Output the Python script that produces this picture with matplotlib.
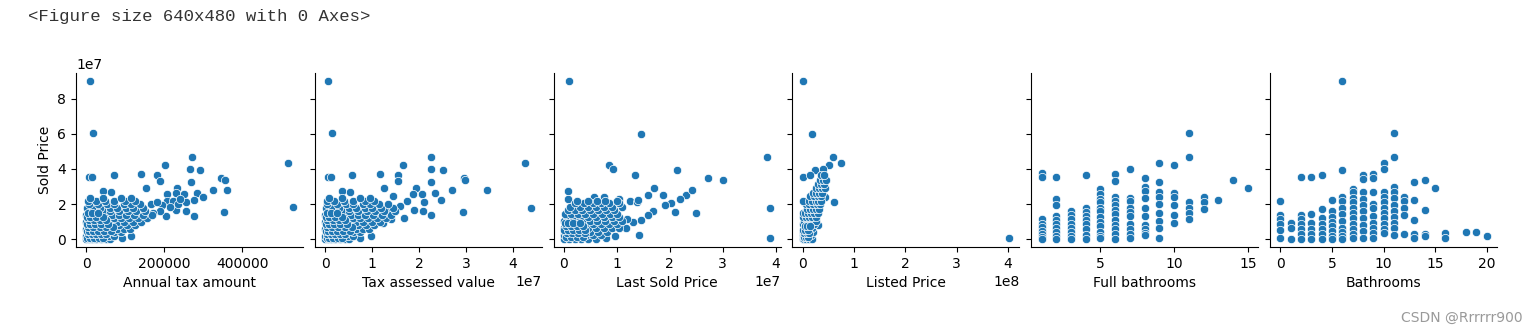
"""
Sold Price vs six housing features, one scatter panel per feature
(pairplot-style row, shared y axis), as shown in a notebook output cell.
"""

import matplotlib.pyplot as plt

OUT_PATH = "out.png"
PRICE_UNIT = 1e7  # sold prices below are written in units of 1e7 $

# ---- Annual tax amount ($) --------------------------------------------------
tax_outliers = [
    (10000, 9.0), (17000, 6.02), (8000, 3.52), (15000, 3.52), (72000, 3.68),
    (141000, 3.71), (182000, 3.68), (190000, 3.31), (201000, 4.25), (270000, 4.69),
    (267000, 4.0), (292000, 3.94), (269000, 3.26), (344000, 3.5), (356000, 3.37),
    (360000, 2.8), (326000, 2.8), (354000, 1.54), (517000, 4.34), (529000, 1.83),
    (44000, 2.74), (62000, 2.7), (154000, 2.91), (232000, 2.91), (251000, 2.59),
    (231000, 2.61), (256000, 2.15), (285000, 2.61), (277000, 2.25), (299000, 2.4),
    (275000, 1.35), (256000, 1.6), (231000, 1.68), (206000, 2.57), (206000, 2.19),
    (205000, 1.33), (115000, 0.17), (91000, 0.1), (11000, 2.22), (222000, 2.2),
    (235000, 2.0), (215000, 1.85), (195000, 1.95), (240000, 2.3), (190000, 1.6),
    (170000, 1.5), (165000, 2.0), (180000, 2.15),
]
tax_cluster = [
    (0.05, [0, 7000, 15000, 25000, 37000, 50000, 60000]),
    (0.2, [0, 9000, 18000, 30000, 42000, 58000, 72000]),
    (0.4, [2000, 12000, 24000, 36000, 54000, 72000, 90000]),
    (0.6, [0, 12000, 25000, 42000, 60000, 78000, 96000, 112000]),
    (0.8, [3000, 15000, 30000, 48000, 66000, 85000, 105000, 125000]),
    (1.0, [0, 12000, 27000, 43000, 60000, 78000, 97000, 120000, 140000]),
    (1.2, [4000, 18000, 36000, 54000, 72000, 90000, 110000, 132000, 156000]),
    (1.4, [0, 15000, 30000, 48000, 66000, 85000, 102000, 122000, 145000, 168000]),
    (1.6, [6000, 24000, 42000, 60000, 84000, 108000, 128000, 150000]),
    (1.8, [2000, 18000, 36000, 60000, 78000, 102000, 120000, 145000]),
    (2.0, [6000, 30000, 54000, 72000, 96000, 115000, 138000]),
    (2.2, [4000, 24000, 48000, 72000, 100000, 126000]),
    (2.35, [10000, 42000, 90000, 115000]),
    # crowded core near the origin
    (0.1, [3000, 10000, 20000, 32000, 44000]),
    (0.3, [4000, 14000, 26000, 38000, 50000]),
    (0.5, [1000, 8000, 18000, 30000, 45000, 62000]),
    (0.7, [5000, 16000, 34000, 50000, 68000]),
    (0.9, [2000, 9000, 21000, 38000, 55000]),
    (1.1, [6000, 20000, 35000, 50000]),
    (1.3, [2000, 10000, 26000, 42000]),
    (1.5, [4000, 14000, 30000]),
]

# ---- Tax assessed value (1e7 $) --------------------------------------------
assessed_outliers = [
    (0.07, 8.99), (0.14, 6.02), (0.06, 3.56), (0.13, 3.56), (0.58, 3.68),
    (1.16, 3.71), (1.56, 3.68), (1.56, 3.33), (1.65, 4.25), (2.25, 4.7),
    (2.25, 4.0), (2.52, 3.94), (2.25, 3.26), (2.96, 3.5), (2.99, 3.37),
    (2.7, 2.8), (3.46, 2.8), (2.93, 1.54), (4.26, 4.36), (4.4, 1.81),
    (0.37, 2.76), (0.52, 2.7), (1.26, 2.91), (1.93, 2.91), (1.88, 2.57),
    (2.07, 2.57), (2.34, 2.61), (2.48, 2.23), (2.1, 2.15), (2.08, 1.62),
    (2.25, 1.37), (1.9, 1.68), (1.69, 1.2), (1.4, 1.14), (1.23, 0.91),
    (0.98, 0.17), (0.74, 0.1), (1.75, 2.2), (1.6, 1.9), (1.45, 2.45), (1.3, 1.7),
]
assessed_cluster = [
    (0.05, [0.0, 0.06, 0.13, 0.21, 0.31, 0.42, 0.5]),
    (0.2, [0.0, 0.08, 0.16, 0.26, 0.36, 0.49, 0.6]),
    (0.4, [0.02, 0.1, 0.2, 0.31, 0.45, 0.6, 0.75]),
    (0.6, [0.0, 0.1, 0.21, 0.35, 0.5, 0.65, 0.8, 0.93]),
    (0.8, [0.03, 0.13, 0.25, 0.4, 0.55, 0.71, 0.88, 1.04]),
    (1.0, [0.0, 0.1, 0.23, 0.36, 0.5, 0.65, 0.81, 1.0, 1.16]),
    (1.2, [0.04, 0.15, 0.3, 0.45, 0.6, 0.75, 0.92, 1.1, 1.3]),
    (1.4, [0.0, 0.12, 0.25, 0.4, 0.55, 0.71, 0.85, 1.02, 1.21, 1.4]),
    (1.6, [0.05, 0.2, 0.35, 0.5, 0.7, 0.9, 1.07, 1.25, 1.5]),
    (1.8, [0.02, 0.15, 0.3, 0.5, 0.65, 0.85, 1.0, 1.2, 1.45]),
    (2.0, [0.05, 0.25, 0.45, 0.6, 0.8, 0.96, 1.15, 1.35]),
    (2.2, [0.03, 0.2, 0.4, 0.6, 0.85, 1.05]),
    (2.35, [0.08, 0.35, 0.75, 0.95]),
    # crowded core near the origin
    (0.1, [0.03, 0.09, 0.17, 0.27, 0.37]),
    (0.3, [0.04, 0.12, 0.22, 0.32, 0.42]),
    (0.5, [0.01, 0.07, 0.15, 0.25, 0.38, 0.52]),
    (0.7, [0.05, 0.14, 0.28, 0.42, 0.57]),
    (0.9, [0.02, 0.08, 0.18, 0.32, 0.46]),
    (1.1, [0.05, 0.17, 0.29, 0.42]),
    (1.3, [0.02, 0.09, 0.22, 0.35]),
    (1.5, [0.04, 0.12, 0.25]),
]

# ---- Last Sold Price (1e7 $) -----------------------------------------------
last_sold_outliers = [
    (0.095, 8.97), (1.46, 6.0), (0.86, 4.23), (0.92, 3.98), (1.35, 3.64),
    (2.14, 3.92), (2.72, 3.47), (3.0, 3.35), (3.83, 4.67), (3.9, 1.81),
    (3.9, 0.08), (0.08, 2.74), (0.08, 2.29), (1.71, 2.9), (1.59, 2.55),
    (1.87, 2.55), (2.3, 2.55), (2.42, 2.8), (2.19, 2.27), (2.03, 2.08),
    (1.91, 1.98), (2.09, 1.58), (2.5, 1.5), (1.69, 1.64), (1.58, 1.37),
    (1.46, 1.12), (1.31, 0.99), (1.41, 0.27), (1.17, 0.65), (1.2, 1.18),
    (1.25, 2.2), (1.38, 2.1), (1.4, 2.22), (1.04, 2.3), (0.57, 2.4),
    (0.76, 2.4), (0.96, 0.21), (0.79, 0.08),
]
last_sold_cluster = [
    (0.05, [0.0, 0.1, 0.2, 0.32, 0.45, 0.6]),
    (0.25, [0.0, 0.08, 0.18, 0.3, 0.42, 0.55, 0.7]),
    (0.45, [0.02, 0.12, 0.22, 0.35, 0.5, 0.65, 0.82]),
    (0.65, [0.0, 0.1, 0.2, 0.3, 0.45, 0.6, 0.75, 0.9, 1.05]),
    (0.85, [0.04, 0.15, 0.28, 0.4, 0.55, 0.7, 0.85, 1.0]),
    (1.05, [0.0, 0.1, 0.22, 0.36, 0.5, 0.62, 0.78, 0.95, 1.1]),
    (1.25, [0.05, 0.18, 0.3, 0.45, 0.6, 0.75, 0.9, 1.05]),
    (1.45, [0.02, 0.14, 0.26, 0.4, 0.55, 0.72, 0.88, 1.0]),
    (1.65, [0.08, 0.2, 0.35, 0.5, 0.65, 0.8, 0.95]),
    (1.85, [0.12, 0.3, 0.45, 0.6, 0.75, 0.9, 1.1]),
    (2.05, [0.2, 0.38, 0.55, 0.7, 0.85, 1.05]),
    (2.2, [0.25, 0.45, 0.62, 0.78, 1.0]),
    # crowded core near the origin
    (0.15, [0.03, 0.13, 0.24, 0.36]),
    (0.35, [0.05, 0.15, 0.26, 0.4]),
    (0.55, [0.0, 0.07, 0.17, 0.28, 0.4]),
    (0.75, [0.04, 0.14, 0.25, 0.36]),
    (0.95, [0.02, 0.08, 0.18, 0.3]),
]

# ---- Listed Price (1e7 $) --------------------------------------------------
listed_outliers = [
    (0.05, 9.0), (1.9, 6.0), (5.9, 4.69), (7.4, 4.34), (5.1, 4.21),
    (3.9, 4.02), (2.3, 3.92), (0.0, 3.54), (1.4, 3.64), (6.1, 2.1),
    (4.35, 2.4), (3.05, 0.8), (40.2, 0.07),
]
listed_cluster = [
    (0.05, [0.0, 0.3, 0.7, 1.2, 1.8]),
    (0.25, [0.1, 0.5, 1.0, 1.6]),
    (0.45, [0.0, 0.4, 0.9, 1.5, 2.0]),
    (0.65, [0.2, 0.7, 1.2, 1.8]),
    (0.85, [0.0, 0.5, 1.0, 1.6, 2.2]),
    (1.05, [0.3, 0.8, 1.4, 2.0, 2.6]),
    (1.25, [0.0, 0.6, 1.2, 1.8, 2.5]),
    (1.5, [0.0, 0.4, 1.0, 1.6, 2.2, 2.9]),
    (1.75, [0.8, 1.4, 2.0, 2.6, 3.2]),
    (2.0, [0.7, 1.3, 2.0, 2.7, 3.3]),
    (2.2, [0.0, 1.2, 1.8, 2.5, 3.0, 3.6]),
    (2.45, [1.5, 2.2, 2.9, 3.5]),
    (2.65, [2.0, 2.6, 3.2, 3.8]),
    (2.9, [2.5, 3.1, 3.7, 4.3]),
    (3.15, [3.0, 3.6, 4.2]),
    (3.4, [3.3, 3.9, 4.5]),
    (3.65, [3.6, 4.2]),
    # crowded core near the origin
    (0.15, [0.2, 0.6, 1.0]),
    (0.35, [0.3, 0.8, 1.2]),
    (0.55, [0.1, 0.5, 1.0]),
    (0.75, [0.4, 0.9, 1.4]),
]

# ---- Full bathrooms / Bathrooms: sold prices per integer count -------------
full_bath_cols = {
    1: [3.75, 3.52, 1.14, 0.9, 0.7, 0.5, 0.3, 0.12, 0.02],
    2: [3.56, 2.29, 1.96, 1.33, 1.1, 0.9, 0.67, 0.44, 0.19, 0.02],
    3: [1.62, 1.39, 1.14, 0.86, 0.67, 0.44, 0.19, 0.02],
    4: [3.66, 1.81, 1.58, 1.33, 1.09, 0.86, 0.57, 0.25, 0.02],
    5: [2.86, 2.57, 2.29, 2.1, 1.81, 1.62, 1.3, 1.0, 0.76, 0.44, 0.19, 0.1],
    6: [3.71, 3.33, 2.42, 2.19, 1.96, 1.68, 1.43, 1.09, 0.82, 0.57, 0.29, 0.04],
    7: [4.0, 2.38, 2.19, 1.81, 1.58, 1.33, 0.86, 0.57, 0.29, 0.06],
    8: [3.49, 2.95, 2.76, 2.38, 1.81, 1.33, 0.82, 0.57, 0.38, 0.25],
    9: [4.36, 3.26, 2.67, 2.42, 2.0, 1.5, 1.07, 0.67, 0.1],
    10: [4.23, 2.61, 2.4, 1.96, 1.39, 0.91],
    11: [6.02, 4.7, 2.1, 1.81, 1.5, 1.14],
    12: [2.4, 2.11, 1.7],
    13: [2.23],
    14: [3.39],
    15: [2.91],
}
bath_cols = {
    0: [2.19, 1.39, 1.14, 0.86, 0.51, 0.1],
    1: [0.95, 0.67, 0.04],
    2: [3.56, 1.39, 1.14, 0.86, 0.57, 0.29, 0.04],
    3: [3.56, 1.43, 0.95, 0.57, 0.29, 0.04],
    4: [3.66, 1.71, 1.24, 0.86, 0.57, 0.29, 0.04],
    5: [2.23, 1.62, 1.28, 1.01, 0.76, 0.48, 0.19, 0.04],
    6: [8.99, 3.92, 2.42, 2.19, 1.81, 1.43, 1.05, 0.67, 0.44, 0.19, 0.04],
    7: [2.86, 2.67, 2.38, 2.1, 1.81, 1.5, 1.24, 0.86, 0.57, 0.29, 0.1],
    8: [3.66, 3.41, 2.69, 2.27, 1.96, 1.62, 1.24, 0.82, 0.48, 0.1],
    9: [3.71, 3.47, 2.67, 2.0, 1.81, 1.33, 0.95, 0.67, 0.38, 0.1],
    10: [4.36, 4.02, 2.67, 2.42, 2.1, 1.81, 1.5, 1.24, 0.86, 0.57, 0.38],
    11: [6.02, 4.7, 2.95, 2.67, 2.38, 1.96, 1.62, 1.28, 0.95, 0.67, 0.25],
    12: [2.4, 2.19, 1.81, 1.39, 0.29],
    13: [3.26, 2.23, 1.09, 0.29, 0.1],
    14: [3.39, 1.68, 0.32, 0.19],
    15: [2.91],
    16: [0.36, 0.1],
    18: [0.44],
    19: [0.4],
    20: [0.17],
}


def from_points(outliers, cluster, x_unit=1.0):
    xs = [x * x_unit for x, _ in outliers]
    ys = [y * PRICE_UNIT for _, y in outliers]
    for y, row in cluster:
        xs += [x * x_unit for x in row]
        ys += [y * PRICE_UNIT] * len(row)
    return xs, ys


def from_columns(cols):
    xs, ys = [], []
    for k, prices in cols.items():
        xs += [k] * len(prices)
        ys += [p * PRICE_UNIT for p in prices]
    return xs, ys


panels = [
    ("Annual tax amount", *from_points(tax_outliers, tax_cluster)),
    ("Tax assessed value", *from_points(assessed_outliers, assessed_cluster, 1e7)),
    ("Last Sold Price", *from_points(last_sold_outliers, last_sold_cluster, 1e7)),
    ("Listed Price", *from_points(listed_outliers, listed_cluster, 1e7)),
    ("Full bathrooms", *from_columns(full_bath_cols)),
    ("Bathrooms", *from_columns(bath_cols)),
]

W, H = 1539, 333
fig, axes = plt.subplots(1, 6, figsize=(W / 100, H / 100), dpi=100, sharey=True)
fig.subplots_adjust(left=76 / W, right=1497 / W, bottom=86 / H, top=260 / H, wspace=0.052)

for ax, (label, xs, ys) in zip(axes, panels):
    ax.scatter(xs, ys, s=36, color="#1f77b4", edgecolors="white", linewidths=0.5)
    ax.spines["top"].set_visible(False)
    ax.spines["right"].set_visible(False)
    ax.set_xlabel(label)
axes[0].set_ylabel("Sold Price")

# notebook cell echo above the figure and the site watermark
fig.text(28 / W, 1 - 17 / H, "<Figure size 640x480 with 0 Axes>", va="center",
         family="Liberation Mono", fontsize=12.5, color="#333333")
fig.text(1523 / W, 1 - 318 / H, "CSDN @Rrrrrr900", ha="right", va="center",
         fontsize=10, color="#9a9a9a")

fig.savefig(OUT_PATH, dpi=100)
